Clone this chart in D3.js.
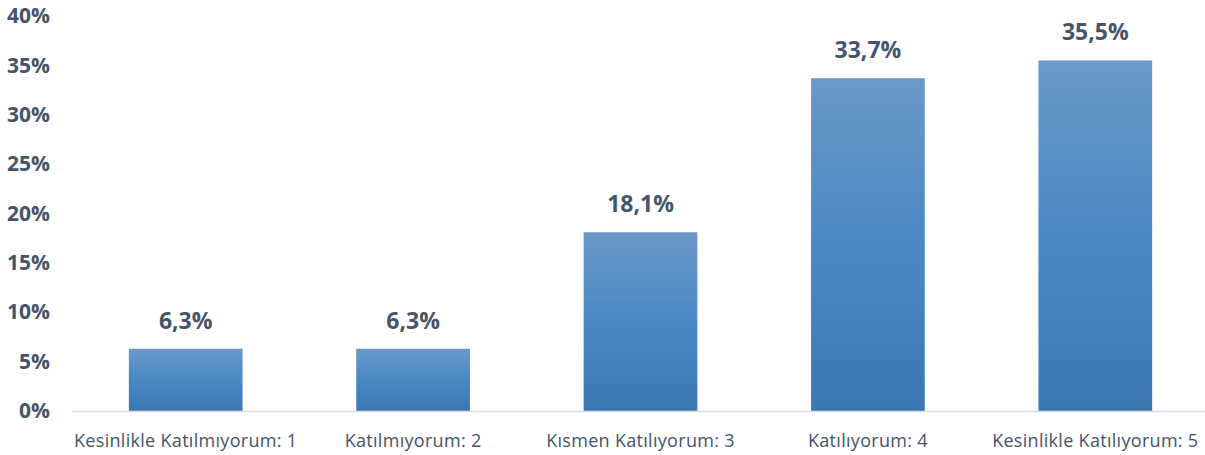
<!DOCTYPE html>
<html>
<head>
<meta charset="utf-8">
<script src="https://cdn.jsdelivr.net/npm/d3@7"></script>
<style>
  body { margin: 0; background: #fff; }
  svg { display: block; font-family: "Open Sans", "Noto Sans", sans-serif; }
</style>
</head>
<body>
<div id="chart"></div>
<script>
const categories = ['Kesinlikle Katılmıyorum: 1', 'Katılmıyorum: 2', 'Kısmen Katılıyorum: 3', 'Katılıyorum: 4', 'Kesinlikle Katılıyorum: 5'];
const values = [6.3, 6.3, 18.1, 33.7, 35.5];
const yTicks = [0, 5, 10, 15, 20, 25, 30, 35, 40];

const W = 1205, H = 455;
const margin = { t: 16, r: -4, b: 44, l: 72 };
const innerWidth = W - margin.l - margin.r;
const innerHeight = H - margin.t - margin.b;
const font = '"Open Sans", "Noto Sans", sans-serif';

const svg = d3.select('#chart').append('svg')
  .attr('width', W)
  .attr('height', H);

const defs = svg.append('defs');
const grad = defs.append('linearGradient')
  .attr('id', 'barGrad')
  .attr('x1', 0).attr('y1', 0).attr('x2', 0).attr('y2', 1);
grad.append('stop').attr('offset', '0%').attr('stop-color', '#6b98c7');
grad.append('stop').attr('offset', '50%').attr('stop-color', '#4a88c6');
grad.append('stop').attr('offset', '100%').attr('stop-color', '#3b78b2');

const plot = svg.append('g')
  .attr('transform', `translate(${margin.l}, ${margin.t})`);

const x = d3.scaleBand().domain(categories).range([0, innerWidth]).paddingInner(0.5).paddingOuter(0.25);
const y = d3.scaleLinear().domain([0, 40]).range([innerHeight, 0]);

// y axis labels
const yAxis = plot.append('g')
  .call(d3.axisLeft(y).tickValues(yTicks).tickFormat(d => d + '%').tickSize(0).tickPadding(22))
  .attr('font-family', font);
yAxis.select('.domain').remove();
yAxis.selectAll('text')
  .attr('fill', '#44546a')
  .style('font-size', '21px')
  .style('font-weight', 'bold');

// bars
plot.selectAll('.bar')
  .data(values)
  .enter()
  .append('rect')
  .attr('class', 'bar')
  .attr('x', (d, i) => x(categories[i]))
  .attr('y', d => y(d))
  .attr('width', x.bandwidth())
  .attr('height', d => innerHeight - y(d))
  .attr('fill', 'url(#barGrad)');

// x axis
const xAxis = plot.append('g')
  .attr('transform', `translate(0, ${innerHeight})`)
  .call(d3.axisBottom(x).tickSize(0).tickPadding(23))
  .attr('font-family', font);
xAxis.select('.domain')
  .attr('stroke', '#d9dee6')
  .attr('stroke-width', 1.5);
xAxis.selectAll('text')
  .attr('fill', '#44546a')
  .style('font-size', '18px')
  .style('letter-spacing', '0.3px');

// value labels
plot.selectAll('.val')
  .data(values)
  .enter()
  .append('text')
  .attr('class', 'val')
  .attr('x', (d, i) => x(categories[i]) + x.bandwidth() / 2)
  .attr('y', d => y(d) - 20)
  .attr('text-anchor', 'middle')
  .attr('fill', '#44546a')
  .style('font-size', '23px')
  .style('font-weight', 'bold')
  .text(d => d.toFixed(1).replace('.', ',') + '%');
</script>
</body>
</html>
